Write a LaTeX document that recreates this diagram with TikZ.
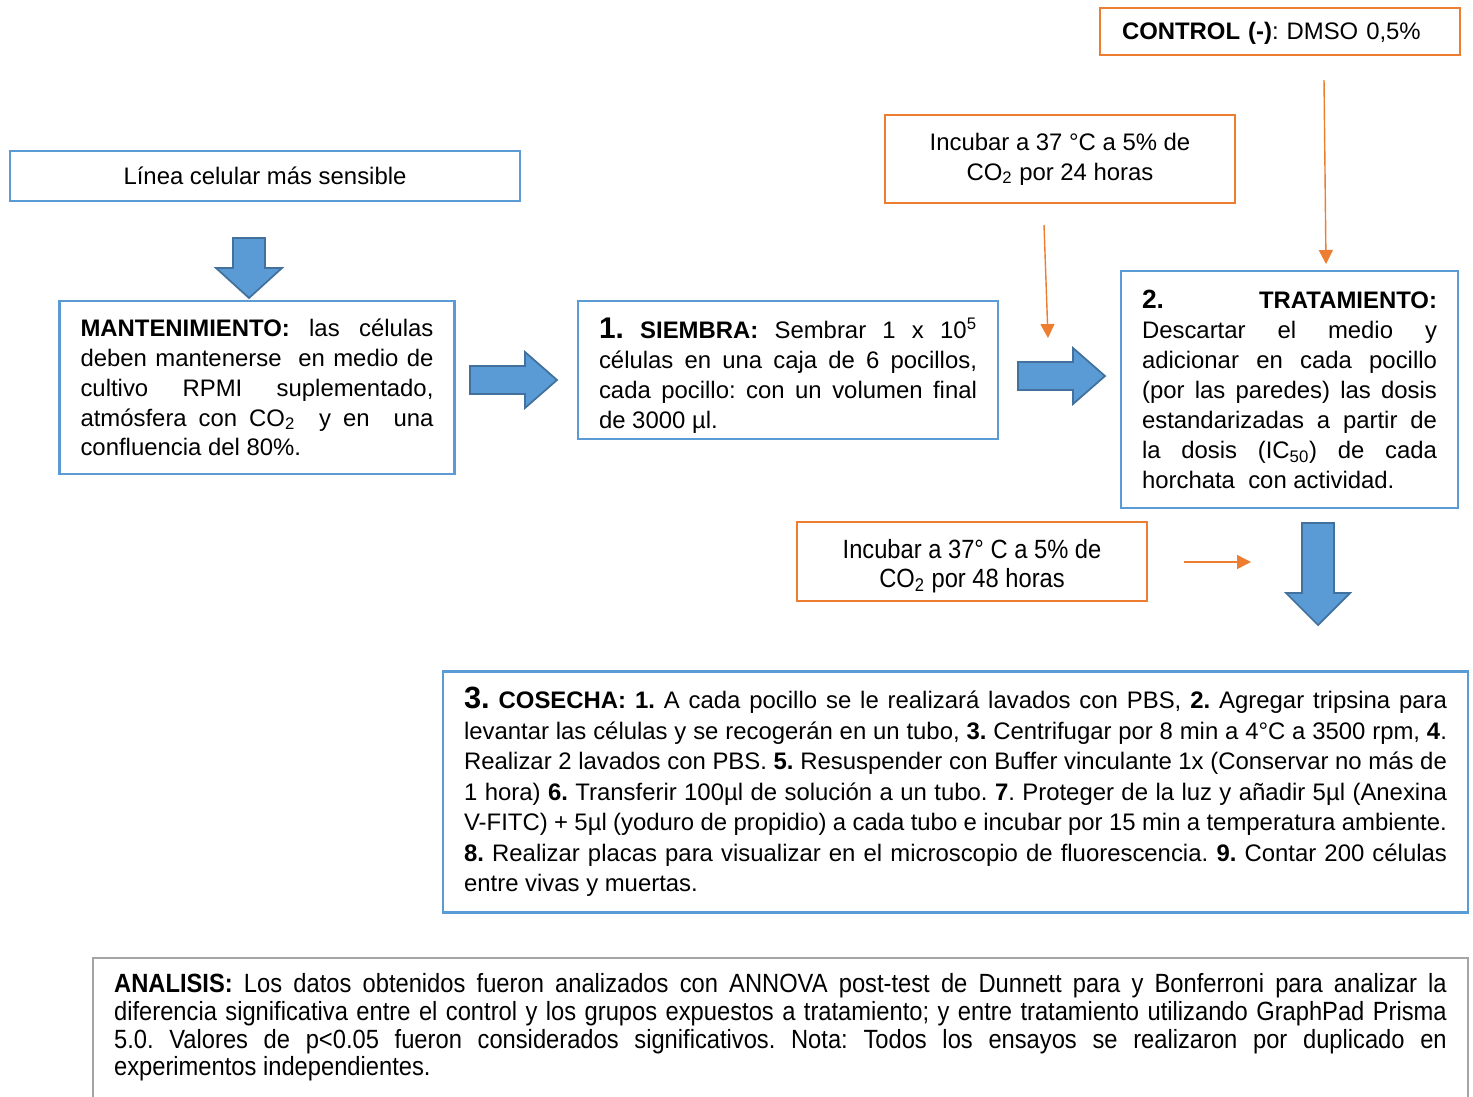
\documentclass[tikz,border=0pt]{standalone}
\usepackage{fontspec}
\setmainfont{Liberation Sans}
\newfontfamily\narrowfont[FakeStretch=0.9]{Liberation Sans}
\usetikzlibrary{arrows.meta}

\definecolor{boxblue}{HTML}{5B9BD5}
\definecolor{arrowedge}{HTML}{41719C}
\definecolor{boxorange}{HTML}{ED7D31}
\definecolor{boxgray}{HTML}{A5A5A5}

\frenchspacing
\hyphenpenalty=10000
\exhyphenpenalty=10000
\tolerance=9999
\emergencystretch=1em

\tikzstyle{bluebox}=[draw=boxblue,line width=1.2pt,inner xsep=0.42cm,inner ysep=0.2cm,font=\fontsize{13.6}{17}\selectfont,align=justify]
\tikzstyle{orangebox}=[draw=boxorange,line width=1.4pt,inner xsep=0.44cm,font=\fontsize{13.6}{17}\selectfont,align=center]
\tikzstyle{graybox}=[draw=boxgray,line width=1.2pt,inner xsep=0.42cm,inner ysep=0.3cm,font=\narrowfont\fontsize{15}{15.9}\selectfont,align=justify]
\tikzstyle{blockarrow}=[fill=boxblue,draw=arrowedge,line width=1pt,line join=miter]
\tikzstyle{thinarrow}=[draw=boxorange,line width=0.8pt,-{Triangle[length=0.28cm,width=0.28cm]}]

\begin{document}
\begin{tikzpicture}[x=0.02cm,y=-0.02cm]
  \useasboundingbox (0,0) rectangle (1473,1096);

  % boxes of the workflow
  \node (linea) at (265,176) [bluebox,minimum width=10.2cm,minimum height=1cm,align=center] {L\'inea celular m\'as sensible};

  \node (mant) at (257,387.5) [bluebox,text width=7.06cm,minimum height=3.46cm] {\textbf{MANTENIMIENTO:} las c\'elulas\linebreak deben mantenerse~ en medio de\linebreak cultivo RPMI suplementado,\linebreak atm\'osfera con CO\textsubscript{2}~ y en~ una confluencia del 80\%.};

  \node (siem) at (788,370) [bluebox,inner ysep=0.05cm,text width=7.56cm,minimum height=2.76cm] {\rule{0pt}{18pt}{\fontsize{17}{17}\selectfont\bfseries 1.} \textbf{SIEMBRA:} Sembrar 1 x 10\textsuperscript{5} c\'elulas en una caja de 6 pocillos, cada pocillo: con un volumen final de 3000 µl.};

  \node (trat) at (1289.5,389.5) [bluebox,text width=5.9cm,minimum height=4.74cm] {{\fontsize{15}{17}\selectfont\bfseries 2.} \textbf{TRATAMIENTO:} Descartar el medio y adicionar en cada pocillo (por las paredes) las dosis estandarizadas a partir de la dosis (IC\textsubscript{50}) de cada horchata~ con actividad.};

  \node (cose) at (955.5,792) [bluebox,text width=19.66cm,minimum height=4.82cm,font=\fontsize{13.6}{17.4}\selectfont] {{\fontsize{17.5}{17}\selectfont\bfseries 3.} \textbf{COSECHA: 1.} A cada pocillo se le realizar\'a lavados con PBS, \textbf{2.} Agregar tripsina para levantar las c\'elulas y se recoger\'an en un tubo, \textbf{3.} Centrifugar por 8 min a 4°C a 3500 rpm, \textbf{4}. Realizar 2 lavados con PBS. \textbf{5.} Resuspender con Buffer vinculante 1x (Conservar no m\'as de 1 hora) \textbf{6.} Transferir 100µl de soluci\'on a un tubo. \textbf{7}. Proteger de la luz y a\~nadir 5µl (Anexina V-FITC) + 5µl (yoduro de propidio) a cada tubo e incubar por 15 min a temperatura ambiente. \textbf{8.} Realizar placas para visualizar en el microscopio de fluorescencia. \textbf{9.} Contar 200 c\'elulas entre vivas y muertas.};

  \node (anal) at (780.5,957) [graybox,anchor=north,text width=26.66cm] {\textbf{ANALISIS:} Los datos obtenidos fueron analizados con ANNOVA post-test de Dunnett para y Bonferroni para analizar la diferencia significativa entre el control y los grupos expuestos a tratamiento; y entre tratamiento utilizando GraphPad Prisma\linebreak 5.0. Valores de p<0.05 fueron considerados significativos. Nota: Todos los ensayos se realizaron por duplicado en\linebreak experimentos independientes.\par\rule{0pt}{1cm}};

  % conditions
  \node (ctrl) at (1280,31.5) [orangebox,minimum width=7.2cm,minimum height=0.94cm,text width=6.32cm,align=left] {\rule{0pt}{12pt}\textbf{CONTROL (-)}: DMSO 0,5\%};
  \node (inc24) at (1060,159) [orangebox,minimum width=7cm,minimum height=1.76cm] {Incubar a 37 °C a 5\% de\\CO\textsubscript{2} por 24 horas};
  \node (inc48) at (972,561.5) [orangebox,minimum width=7cm,minimum height=1.58cm,font=\narrowfont\fontsize{15}{16.6}\selectfont] {\rule{0pt}{16pt}Incubar a 37° C a 5\% de\\CO\textsubscript{2} por 48 horas};

  % big arrows
  \draw[blockarrow] (233,238) -- (265,238) -- (265,268) -- (282,268) -- (249,298) -- (216,268) -- (233,268) -- cycle;
  \foreach \x/\y in {470/380,1018/376}{
    \draw[blockarrow] (\x,\y-14) -- (\x+55,\y-14) -- (\x+55,\y-28) -- (\x+87,\y) -- (\x+55,\y+28) -- (\x+55,\y+14) -- (\x,\y+14) -- cycle;
  }
  \draw[blockarrow] (1302,523) -- (1334,523) -- (1334,593) -- (1350,593) -- (1318,625) -- (1286,593) -- (1302,593) -- cycle;

  % thin arrows
  \coordinate (ctlstart) at (1324,80);
  \coordinate (ctlend) at (1326,264);
  \coordinate (incstart) at (1044,225);
  \coordinate (incend) at (1048,338);
  \coordinate (horstart) at (1184,562);
  \coordinate (horend) at (1251,562);
  \draw[thinarrow] (ctlstart) -- (ctlend);
  \draw[thinarrow] (incstart) -- (incend);
  \draw[thinarrow] (horstart) -- (horend);
\end{tikzpicture}
\end{document}
